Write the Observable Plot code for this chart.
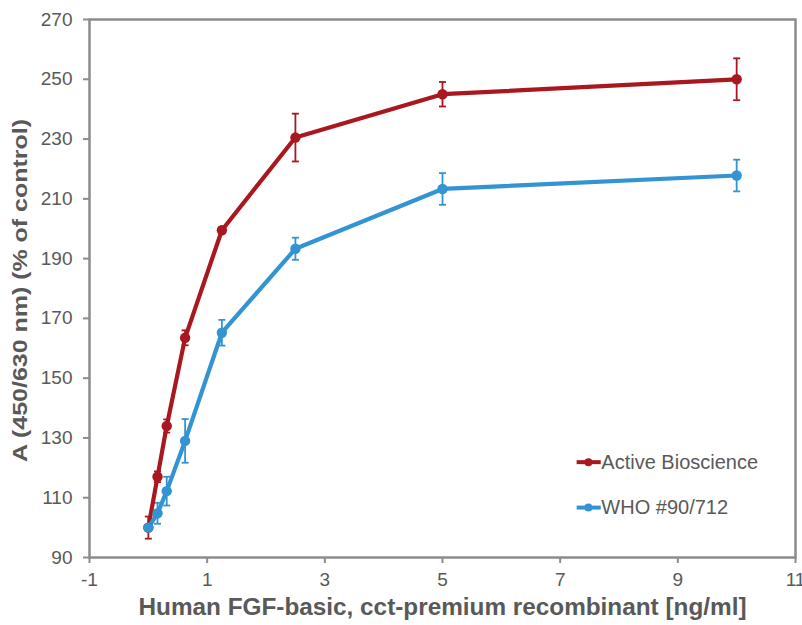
<!DOCTYPE html>
<html>
<head>
<meta charset="utf-8">
<script src="https://cdn.jsdelivr.net/npm/d3@7"></script>
<script src="https://cdn.jsdelivr.net/npm/@observablehq/plot@0.6"></script>
<style>
  html, body { margin: 0; padding: 0; background: #fff; }
  #chart { width: 802px; height: 625px; }
</style>
</head>
<body>
<div id="chart"></div>
<script>
// Concentrations (ng/ml)
const concentrations = [0, 0.156, 0.3125, 0.625, 1.25, 2.5, 5, 10];
// Series
const seriesNames = ["Active Bioscience", "WHO #90/712"];
const activeMean = [100, 117, 134, 163.5, 199.5, 230.5, 245, 250];
const activeErr  = [3.7, 1.8, 2.2, 2.5, 1.0, 8.0, 4.1, 7.0];
const whoMean    = [100, 104.8, 112.2, 129, 165.2, 193.3, 213.3, 217.8];
const whoErr     = [1.0, 3.5, 4.8, 7.3, 4.3, 3.7, 5.3, 5.3];
// Tick labels
const xTicks = [-1, 1, 3, 5, 7, 9, 11];
const yTicks = [90, 110, 130, 150, 170, 190, 210, 230, 250, 270];

const colors = ["#a8181e", "#3294d2"];

const data = [];
concentrations.forEach((c, i) => {
  data.push({series: seriesNames[0], x: c, y: activeMean[i], e: activeErr[i]});
  data.push({series: seriesNames[1], x: c, y: whoMean[i], e: whoErr[i]});
});
const caps = data.flatMap(d => [{series: d.series, x: d.x, y: d.y - d.e}, {series: d.series, x: d.x, y: d.y + d.e}]);

// In-plot legend anchored in data space
const legend = [
  {series: seriesNames[0], x0: 7.28, x1: 7.69, xd: 7.48, xt: 7.70, y: 121.9},
  {series: seriesNames[1], x0: 7.28, x1: 7.69, xd: 7.48, xt: 7.70, y: 106.7}
];

const capSymbol = {draw(ctx) { ctx.moveTo(-3.5, 0); ctx.lineTo(3.5, 0); }};

const axisColor = "#8c8c8c";
const textColor = "#595959";

const chart = Plot.plot({
  width: 802,
  height: 625,
  marginLeft: 89,
  marginRight: 7,
  marginTop: 19,
  marginBottom: 68,
  style: {fontFamily: "Liberation Sans, Arial, sans-serif", fontSize: "19px", color: textColor, background: "#fff"},
  x: {type: "linear", domain: [-1, 11], ticks: xTicks, label: null},
  y: {type: "linear", domain: [90, 270], ticks: yTicks, label: null},
  color: {domain: seriesNames, range: colors},
  marks: [
    Plot.frame({stroke: axisColor, strokeWidth: 2.5}),
    Plot.axisX({ticks: xTicks, tickFormat: d => String(d), tickSize: 6, tickPadding: 9, stroke: axisColor, strokeWidth: 2, fill: textColor, fontSize: 19, label: null}),
    Plot.axisY({ticks: yTicks, tickFormat: d => String(d), tickSize: 6, tickPadding: 11, stroke: axisColor, strokeWidth: 2, fill: textColor, fontSize: 19, label: null}),
    // error bars
    Plot.ruleX(data, {x: "x", y1: d => d.y - d.e, y2: d => d.y + d.e, stroke: "series", strokeWidth: 1.8}),
    Plot.dot(caps, {x: "x", y: "y", stroke: "series", symbol: capSymbol, strokeWidth: 1.8, fill: "none"}),
    // lines
    Plot.line(data, {x: "x", y: "y", z: "series", stroke: "series", strokeWidth: 4.2, strokeLinejoin: "round"}),
    Plot.dot(data, {x: "x", y: "y", fill: "series", r: 5.2}),
    // legend
    Plot.link(legend, {x1: "x0", x2: "x1", y1: "y", y2: "y", stroke: "series", strokeWidth: 4}),
    Plot.dot(legend, {x: "xd", y: "y", fill: "series", r: 4}),
    Plot.text(legend, {x: "xt", y: "y", text: "series", textAnchor: "start", fill: textColor, fontSize: 20}),
    // axis labels
    Plot.text(["Human FGF-basic, cct-premium recombinant [ng/ml]"], {frameAnchor: "bottom", textAnchor: "middle", dy: 57, fontSize: 23, fontWeight: "bold", fill: textColor, className: "xlabel"}),
    Plot.text(["A (450/630 nm) (% of control)"], {frameAnchor: "left", textAnchor: "middle", dx: -69, dy: 2, rotate: -90, fontSize: 20, fontWeight: "bold", fill: textColor, className: "ylabel"})
  ]
});

document.getElementById("chart").appendChild(chart);

// stretch axis titles to the reference's text length
d3.select(chart).select(".xlabel text").attr("textLength", 608).attr("lengthAdjust", "spacingAndGlyphs");
d3.select(chart).select(".ylabel text").attr("textLength", 343).attr("lengthAdjust", "spacingAndGlyphs");
</script>
</body>
</html>
